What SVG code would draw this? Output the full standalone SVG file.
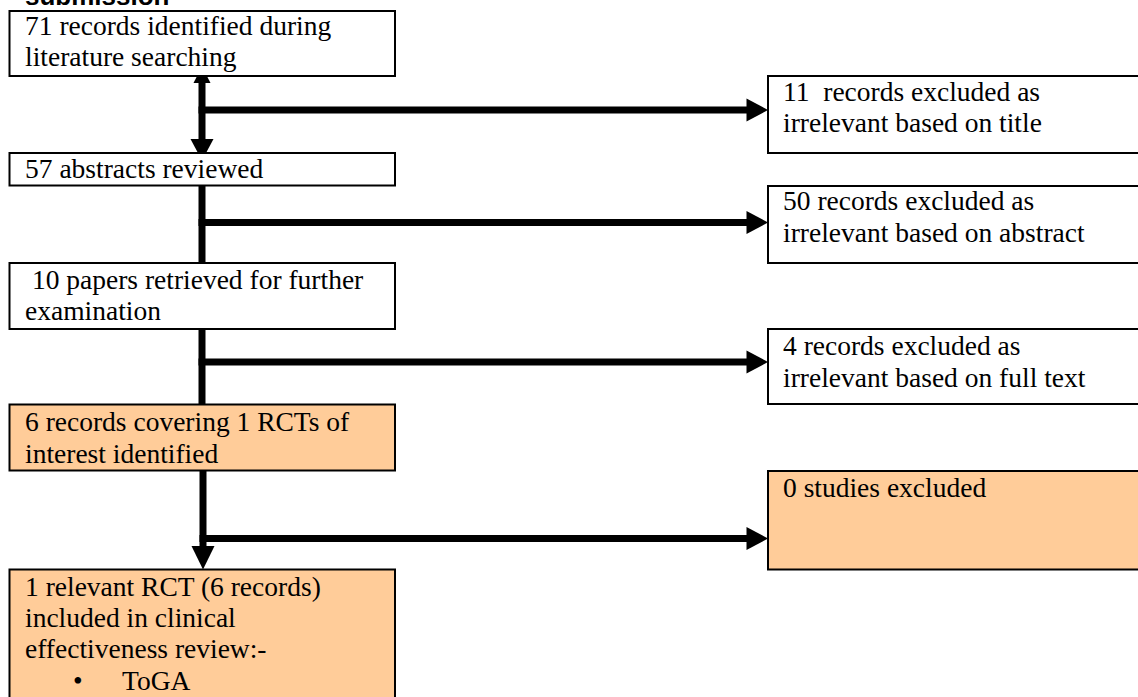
<svg xmlns="http://www.w3.org/2000/svg" width="1138" height="697" viewBox="0 0 1138 697">
<style>
.box{fill:#ffffff;stroke:#000;stroke-width:2}
.hl{fill:#ffcc99;stroke:#000;stroke-width:2}
.t{font-family:'Liberation Serif','Times New Roman','DejaVu Serif',serif;font-size:27.5px;fill:#000;white-space:pre}
.ttl{font-family:'Liberation Sans',Arial,sans-serif;font-size:26px;font-weight:bold;fill:#000}
.ln{stroke:#000;stroke-width:7;fill:none}
.ah{fill:#000}
</style>
<rect width="1138" height="697" fill="#ffffff"/>
<text class="ttl" x="25" y="5">submission</text>
<g id="connectors">
<line class="ln" x1="202" y1="80" x2="202" y2="142"/>
<polygon class="ah" points="202,66.5 193.5,83 210.5,83"/>
<polygon class="ah" points="190.5,139 213.5,139 202,160.5"/>
<line class="ln" x1="202" y1="186" x2="202" y2="278"/>
<polygon class="ah" points="190.5,275 213.5,275 202,298.5"/>
<line class="ln" x1="202" y1="330" x2="202" y2="418"/>
<polygon class="ah" points="190.5,415 213.5,415 202,438.5"/>
<line class="ln" x1="203" y1="471" x2="203" y2="549"/>
<polygon class="ah" points="191.5,546 214.5,546 203,569.5"/>
<line class="ln" x1="198.5" y1="110" x2="750" y2="110"/>
<polygon class="ah" points="746.5,98.5 746.5,121.5 768,110"/>
<line class="ln" x1="198.5" y1="222.5" x2="750" y2="222.5"/>
<polygon class="ah" points="746.5,211 746.5,234 768,222.5"/>
<line class="ln" x1="198.5" y1="362" x2="750" y2="362"/>
<polygon class="ah" points="746.5,350.5 746.5,373.5 768,362"/>
<line class="ln" x1="199.5" y1="538.5" x2="750" y2="538.5"/>
<polygon class="ah" points="746.5,527 746.5,550 768,538.5"/>
</g>
<g id="n1">
<rect class="box" x="9.5" y="11" width="385.5" height="65"/>
<text class="t" font-family="Liberation Serif" x="25" y="35">71 records identified during</text>
<text class="t" font-family="Liberation Serif" x="25" y="66">literature searching</text>
</g>
<g id="n2">
<rect class="box" x="9.5" y="153" width="385.5" height="32.5"/>
<text class="t" font-family="Liberation Serif" x="25" y="178">57 abstracts reviewed</text>
</g>
<g id="n3">
<rect class="box" x="9.5" y="263" width="385.5" height="66"/>
<text class="t" font-family="Liberation Serif" x="25" y="289"> 10 papers retrieved for further</text>
<text class="t" font-family="Liberation Serif" x="25" y="320">examination</text>
</g>
<g id="n4">
<rect class="hl" x="9.5" y="404.5" width="385.5" height="66"/>
<text class="t" font-family="Liberation Serif" x="25" y="431">6 records covering 1 RCTs of</text>
<text class="t" font-family="Liberation Serif" x="25" y="463">interest identified</text>
</g>
<g id="n5">
<rect class="hl" x="9.5" y="569.5" width="385.5" height="140"/>
<text class="t" font-family="Liberation Serif" x="25" y="596">1 relevant RCT (6 records)</text>
<text class="t" font-family="Liberation Serif" x="25" y="627">included in clinical</text>
<text class="t" font-family="Liberation Serif" x="25" y="658">effectiveness review:-</text>
<text class="t" font-family="Liberation Serif" x="73" y="690">•</text>
<text class="t" font-family="Liberation Serif" x="122" y="690">ToGA</text>
</g>
<g id="r1">
<rect class="box" x="768" y="76" width="380" height="77"/>
<text class="t" font-family="Liberation Serif" x="783" y="101">11  records excluded as</text>
<text class="t" font-family="Liberation Serif" x="783" y="132">irrelevant based on title</text>
</g>
<g id="r2">
<rect class="box" x="768" y="186" width="380" height="77"/>
<text class="t" font-family="Liberation Serif" x="783" y="210">50 records excluded as</text>
<text class="t" font-family="Liberation Serif" x="783" y="242">irrelevant based on abstract</text>
</g>
<g id="r3">
<rect class="box" x="768" y="329" width="380" height="75"/>
<text class="t" font-family="Liberation Serif" x="783" y="355">4 records excluded as</text>
<text class="t" font-family="Liberation Serif" x="783" y="387">irrelevant based on full text</text>
</g>
<g id="r4">
<rect class="hl" x="768" y="471" width="380" height="98.5"/>
<text class="t" font-family="Liberation Serif" x="783" y="497">0 studies excluded</text>
</g>
</svg>
